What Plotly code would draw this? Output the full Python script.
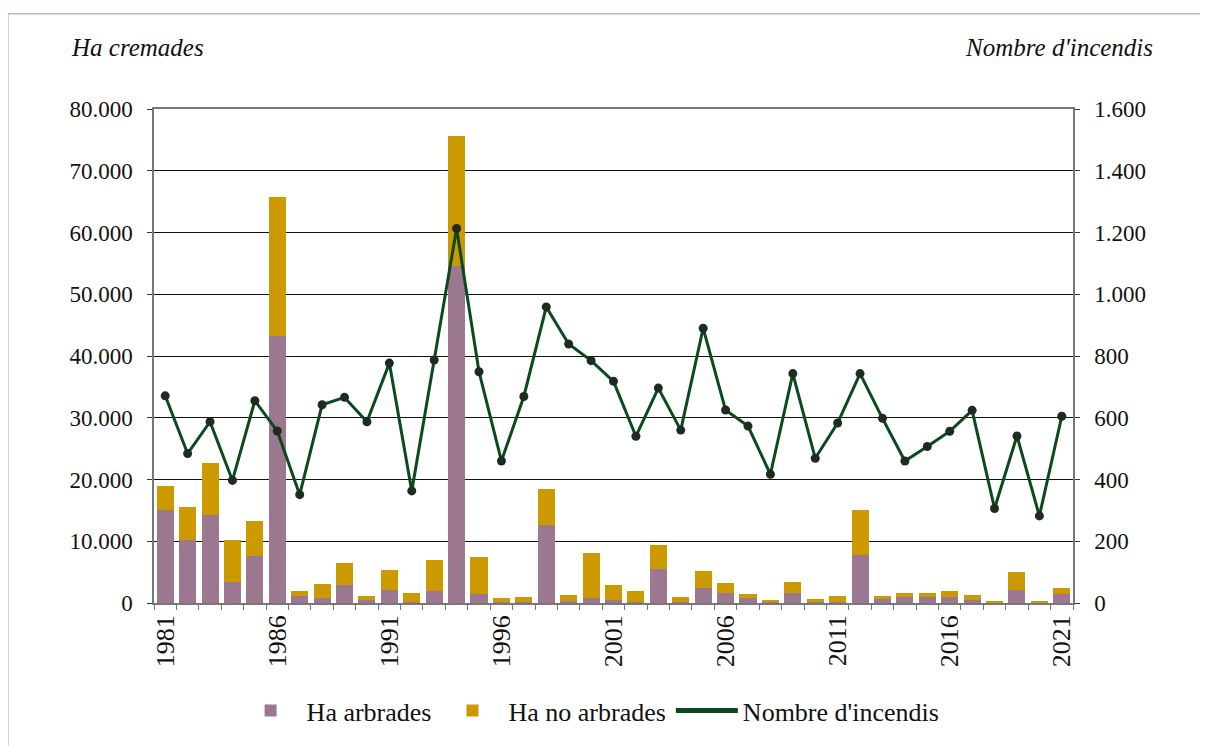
import plotly.graph_objects as go

years = list(range(1981, 2022))
ha_arbrades = [15000, 10200, 14200, 3400, 7600, 43200, 1200, 800, 2900, 500,
               2150, 200, 1900, 54500, 1450, 150, 200, 12600, 300, 800,
               500, 150, 5500, 150, 2400, 1600, 800, 150, 1600, 200,
               200, 7700, 600, 1000, 1000, 1000, 550, 50, 2100, 50, 1450]
ha_total = [19000, 15500, 22700, 10200, 13200, 65800, 1900, 3100, 6450, 1100,
            5300, 1600, 6900, 75600, 7400, 800, 1000, 18400, 1300, 8100,
            2900, 1900, 9350, 1000, 5200, 3200, 1450, 500, 3400, 600,
            1100, 15000, 1100, 1600, 1600, 1900, 1300, 200, 5000, 200, 2400]
ha_no_arbrades = [t - a for t, a in zip(ha_total, ha_arbrades)]
incendis = [671, 484, 587, 397, 655, 557, 351, 642, 666, 587,
            777, 363, 787, 1213, 749, 460, 669, 959, 839, 785,
            718, 540, 696, 560, 890, 625, 573, 417, 743, 469,
            583, 743, 598, 460, 507, 556, 624, 306, 541, 282, 605]

FONT = "Liberation Serif"
PURPLE = "#9b7790"
GOLD = "#cc9900"
GREEN = "#0b4a1c"

fig = go.Figure()
fig.add_trace(go.Bar(x=years, y=ha_arbrades, name="Ha arbrades",
                     marker=dict(color=PURPLE, line=dict(width=0))))
fig.add_trace(go.Bar(x=years, y=ha_no_arbrades, name="Ha no arbrades",
                     marker=dict(color=GOLD, line=dict(width=0))))
fig.add_trace(go.Scatter(x=years, y=incendis, yaxis="y2", mode="lines+markers",
                         line=dict(color=GREEN, width=3),
                         marker=dict(color="#1f2a22", size=9),
                         showlegend=False, name="Nombre d'incendis"))
fig.add_trace(go.Scatter(x=[None], y=[None], yaxis="y2", mode="lines",
                         line=dict(color=GREEN, width=5),
                         name="Nombre d'incendis"))

TICKSZ = 23
fig.update_layout(
    width=1200, height=738,
    margin=dict(l=146, r=135, t=101, b=141),
    barmode="stack", bargap=0.24,
    plot_bgcolor="white", paper_bgcolor="white",
    separators=",.",
    font=dict(family=FONT, size=TICKSZ, color="#111"),
    xaxis=dict(range=[1980.5, 2021.5], tickmode="linear", tick0=1981, dtick=5,
               tickangle=-90, showgrid=False, showline=True, linecolor="#777",
               linewidth=1.5, mirror=True, ticks="", zeroline=False,
               tickfont=dict(family=FONT, size=26),
               minor=dict(ticks="outside", ticklen=5, tickcolor="#777",
                          tick0=1980.5, dtick=1)),
    yaxis=dict(range=[0, 80000], dtick=10000, tickformat=",d",
               showgrid=True, gridcolor="#111", gridwidth=1.3,
               showline=True, linecolor="#777", linewidth=1.5,
               ticks="outside", ticklen=5, tickcolor="#333",
               ticklabelstandoff=10, zeroline=False,
               tickfont=dict(family=FONT, size=TICKSZ)),
    yaxis2=dict(range=[0, 1600], dtick=200, tickformat=",d", overlaying="y",
                side="right", showgrid=False, showline=True, linecolor="#777",
                linewidth=1.5, ticks="outside", ticklen=5, tickcolor="#333",
                ticklabelstandoff=10, zeroline=False,
                tickfont=dict(family=FONT, size=TICKSZ)),
    legend=dict(orientation="h", x=0.474, y=-0.218, xanchor="center",
                yanchor="middle", font=dict(family=FONT, size=26),
                itemwidth=62, traceorder="normal"),
    shapes=[dict(type="line", xref="paper", yref="paper",
                 x0=-0.159, x1=1.2, y0=1.193, y1=1.193,
                 line=dict(color="#c8b3c3", width=1.5)),
            dict(type="line", xref="paper", yref="paper",
                 x0=-0.159, x1=-0.159, y0=1.193, y1=-0.3,
                 line=dict(color="#c8b3c3", width=1.5))],
    annotations=[
        dict(text="<i>Ha cremades</i>", xref="paper", yref="paper",
             x=-0.092, y=1.125, xanchor="left", yanchor="middle",
             showarrow=False, font=dict(family=FONT, size=25)),
        dict(text="<i>Nombre d'incendis</i>", xref="paper", yref="paper",
             x=1.089, y=1.125, xanchor="right", yanchor="middle",
             showarrow=False, font=dict(family=FONT, size=25)),
    ],
)

fig.write_html("out.html")
